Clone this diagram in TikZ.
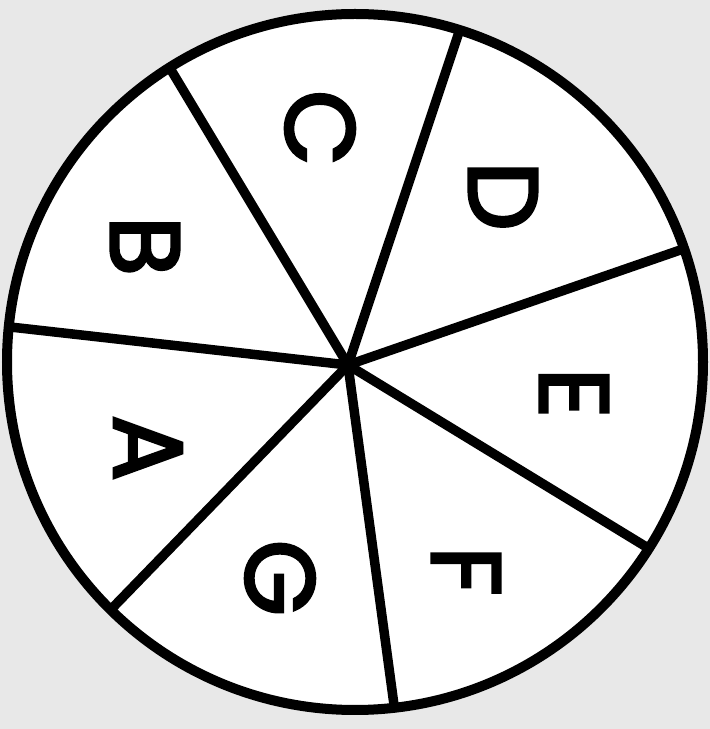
\documentclass[tikz,border=0pt]{standalone}
\usepackage{fontspec}
\newfontfamily\spinfont[FakeBold=3]{Poppins}
\usetikzlibrary{calc}

\newcommand*{\wheelr}{348}
\newcommand*{\pagew}{710}
\newcommand*{\pageh}{729}

\begin{document}
\begin{tikzpicture}
[
	x=1pt, y=1pt,
	rim/.style={line width=10pt},
	spoke/.style={line width=9.5pt},
	letter/.style={font=\spinfont\fontsize{98}{98}\selectfont,rotate=-90,inner sep=0pt}
]

	% paper
	\fill[gray!18] (0,0) rectangle (\pagew,\pageh);
	\useasboundingbox (0,0) rectangle (\pagew,\pageh);

	% wheel
	\coordinate (centre) at (355,367);
	\coordinate (hub) at (348,364);
	\fill[white] (centre) circle (\wheelr);

	% spokes
	\foreach \ang [count=\i] in {122.2,72.5,19.0,-32.4,-83.5,225.4,174.2}
		\draw[spoke] (hub) -- ($(centre)+(\ang:\wheelr)$) coordinate (end\i);

	\draw[rim] (centre) circle (\wheelr);

	% letters
	\node[letter] (c) at (320,601) {C};
	\node[letter] (d) at (503,533) {D};
	\node[letter] (e) at (574,336) {E};
	\node[letter] (f) at (466,158) {F};
	\node[letter] (g) at (280,151) {G};
	\node[letter] (a) at (148,281) {A};
	\node[letter] (b) at (145,483) {B};

\end{tikzpicture}
\end{document}
